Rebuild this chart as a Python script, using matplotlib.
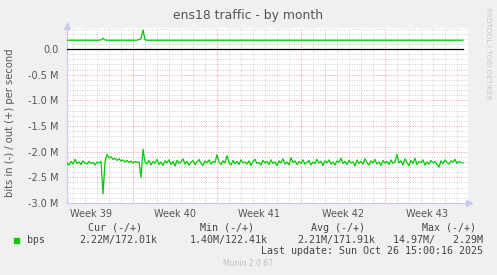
import matplotlib
matplotlib.use("Agg")
import matplotlib.pyplot as plt

# time axis: days since Mon 22 Sep 2025, one sample every 4 hours
t_start = 1.5
t_step = 1 / 6

# bits in (plotted negative), in Mbit/s
in_mbps = [
    2.22, 2.26, 2.19, 2.24, 2.15, 2.23, 2.20, 2.25, 2.18, 2.22,
    2.24, 2.19, 2.23, 2.21, 2.26, 2.20, 2.22, 2.19, 2.82, 2.20,
    2.05, 2.12, 2.10, 2.15, 2.13, 2.17, 2.14, 2.18, 2.16, 2.20,
    2.17, 2.21, 2.18, 2.22, 2.19, 2.21, 2.20, 2.50, 1.95, 2.20,
    2.24, 2.17, 2.26, 2.19, 2.23, 2.15, 2.25, 2.20, 2.27, 2.18,
    2.22, 2.16, 2.25, 2.19, 2.28, 2.17, 2.23, 2.20, 2.14, 2.24,
    2.19, 2.26, 2.21, 2.17, 2.25, 2.20, 2.15, 2.23, 2.27, 2.18,
    2.22, 2.16, 2.24, 2.19, 2.21, 2.06, 2.20, 2.25, 2.18, 2.22,
    2.08, 2.21, 2.26, 2.17, 2.23, 2.19, 2.25, 2.16, 2.22, 2.20,
    2.24, 2.18, 2.27, 2.19, 2.15, 2.23, 2.21, 2.26, 2.17, 2.22,
    2.19, 2.25, 2.16, 2.23, 2.20, 2.27, 2.18, 2.22, 2.14, 2.24,
    2.20, 2.26, 2.12, 2.21, 2.18, 2.25, 2.19, 2.23, 2.16, 2.24,
    2.21, 2.17, 2.26, 2.20, 2.23, 2.15, 2.22, 2.19, 2.27, 2.18,
    2.22, 2.16, 2.24, 2.20, 2.26, 2.18, 2.21, 2.13, 2.23, 2.19,
    2.25, 2.17, 2.22, 2.20, 2.28, 2.16, 2.23, 2.19, 2.24, 2.14,
    2.21, 2.26, 2.18, 2.22, 2.15, 2.24, 2.20, 2.27, 2.17, 2.22,
    2.19, 2.25, 2.16, 2.23, 2.20, 2.05, 2.22, 2.18, 2.26, 2.14,
    2.21, 2.27, 2.17, 2.23, 2.13, 2.25, 2.19, 2.22, 2.16, 2.26,
    2.20, 2.24, 2.17, 2.22, 2.19, 2.25, 2.30, 2.18, 2.23, 2.16,
    2.21, 2.24, 2.18, 2.20, 2.15, 2.23, 2.19, 2.21, 2.22,
]

# bits out (plotted positive), in Mbit/s
out_mbps = [
    0.172, 0.171, 0.172, 0.173, 0.172, 0.171, 0.172, 0.172, 0.173, 0.172,
    0.172, 0.171, 0.172, 0.172, 0.173, 0.172, 0.172, 0.178, 0.210, 0.175,
    0.172, 0.171, 0.172, 0.173, 0.172, 0.172, 0.171, 0.172, 0.173, 0.172,
    0.172, 0.171, 0.172, 0.172, 0.173, 0.172, 0.185, 0.200, 0.370, 0.180,
    0.172, 0.172, 0.171, 0.172, 0.173, 0.172, 0.172, 0.171, 0.172, 0.172,
    0.173, 0.172, 0.172, 0.171, 0.172, 0.172, 0.173, 0.172, 0.172, 0.171,
    0.172, 0.172, 0.172, 0.173, 0.172, 0.171, 0.172, 0.172, 0.172, 0.173,
    0.172, 0.171, 0.172, 0.172, 0.172, 0.173, 0.172, 0.172, 0.171, 0.172,
    0.172, 0.173, 0.172, 0.171, 0.172, 0.172, 0.172, 0.173, 0.172, 0.172,
    0.171, 0.172, 0.172, 0.172, 0.173, 0.172, 0.171, 0.172, 0.172, 0.172,
    0.173, 0.172, 0.172, 0.171, 0.172, 0.172, 0.172, 0.173, 0.172, 0.171,
    0.172, 0.172, 0.172, 0.173, 0.172, 0.172, 0.171, 0.172, 0.172, 0.173,
    0.172, 0.172, 0.171, 0.172, 0.172, 0.172, 0.173, 0.172, 0.171, 0.172,
    0.172, 0.172, 0.173, 0.172, 0.172, 0.171, 0.172, 0.172, 0.172, 0.173,
    0.172, 0.171, 0.172, 0.172, 0.172, 0.173, 0.172, 0.172, 0.171, 0.172,
    0.172, 0.172, 0.173, 0.172, 0.171, 0.172, 0.172, 0.172, 0.173, 0.172,
    0.172, 0.171, 0.172, 0.172, 0.172, 0.173, 0.172, 0.171, 0.172, 0.172,
    0.172, 0.173, 0.172, 0.172, 0.171, 0.172, 0.172, 0.172, 0.173, 0.172,
    0.171, 0.172, 0.172, 0.172, 0.173, 0.172, 0.172, 0.171, 0.172, 0.172,
    0.172, 0.173, 0.172, 0.171, 0.172, 0.172, 0.172, 0.173, 0.172,
]

y_ticks = [0.0, -0.5, -1.0, -1.5, -2.0, -2.5, -3.0]
y_tick_labels = ["0.0", "-0.5 M", "-1.0 M", "-1.5 M", "-2.0 M", "-2.5 M", "-3.0 M"]
week_starts = [7, 14, 21, 28]
week_mids = [3.5, 10.5, 17.5, 24.5, 31.5]
week_labels = ["Week 39", "Week 40", "Week 41", "Week 42", "Week 43"]

legend_headers = ["Cur (-/+)", "Min (-/+)", "Avg (-/+)", "Max (-/+)"]
legend_values = ["2.22M/172.01k", "1.40M/122.41k", "2.21M/171.91k", "14.97M/   2.29M"]

W, H = 497, 275
BG = "#F0F0F0"
GREEN = "#00CC00"
MINOR = "#CFCFCF"
MAJOR = "#EAA0A0"
AXIS = "#C8C8F0"
TXT = "#555555"

fig = plt.figure(figsize=(W / 100, H / 100), dpi=100, facecolor=BG)
# plot area in pixels: x 67..468, y 28..203
ax = fig.add_axes([67 / W, 1 - 203 / H, 401 / W, 175 / H], facecolor="white")

t = [t_start + t_step * i for i in range(len(in_mbps))]
neg_in = [-v for v in in_mbps]

x_min, x_max = 1.5, 34.92
y_min, y_max = -3.0, 0.41
ax.set_xlim(x_min, x_max)
ax.set_ylim(y_min, y_max)

# minor grid (days / 0.1 M)
for d in range(2, 35):
    if d not in week_starts:
        ax.axvline(d, color=MINOR, lw=0.7, ls=(0, (1, 1.5)), zorder=1)
for k in range(-29, 5):
    if k % 5 != 0:
        ax.axhline(k / 10, color=MINOR, lw=0.7, ls=(0, (1, 1.5)), zorder=1)
# major grid (weeks / 0.5 M)
for d in week_starts:
    ax.axvline(d, color=MAJOR, lw=0.7, ls=(0, (1, 1.5)), zorder=1)
for v in y_ticks[1:-1]:
    ax.axhline(v, color=MAJOR, lw=0.7, ls=(0, (1, 1.5)), zorder=1)

ax.plot(t, neg_in, color=GREEN, lw=0.9, zorder=3)
ax.plot(t, out_mbps, color=GREEN, lw=0.9, zorder=3)
ax.plot([t[0], t[-1]], [0, 0], color="black", lw=0.9, zorder=4)

for s in ["top", "right"]:
    ax.spines[s].set_visible(False)
for s in ["left", "bottom"]:
    ax.spines[s].set_color(AXIS)
    ax.spines[s].set_linewidth(0.9)

# axis arrows
ax.plot([x_min], [y_max + 0.03], marker="^", color=AXIS, ms=4, clip_on=False, zorder=5)
ax.plot([x_max + 0.1], [y_min], marker=">", color=AXIS, ms=4, clip_on=False, zorder=5)

ax.set_yticks(y_ticks)
ax.set_yticklabels(y_tick_labels)
ax.set_xticks(week_mids)
ax.set_xticklabels(week_labels)
ax.tick_params(axis="both", length=0, colors=TXT, labelsize=7)
ax.tick_params(axis="y", pad=6)
ax.tick_params(axis="x", pad=4)

fig.text(248 / W, 1 - 16 / H, "ens18 traffic - by month", ha="center", va="center",
         fontsize=8.9, color=TXT)
fig.text(10 / W, 1 - 123 / H, "bits in (-) / out (+) per second", rotation=90,
         ha="center", va="center", fontsize=7.2, color=TXT)
fig.text(488 / W, 1 - 53 / H, "RRDTOOL / TOBI OETIKER", rotation=270,
         ha="center", va="center", fontsize=5.2, color="#C8C8C8")

mono = "DejaVu Sans Mono"
LEG = "#444444"
header_right = [142, 254, 365, 476]
value_right = [157, 268, 375, 483]
for hx, hd in zip(header_right, legend_headers):
    fig.text(hx / W, 1 - 228 / H, hd, ha="right", va="center", family=mono,
             fontsize=7.2, color=LEG)
for vx, vl in zip(value_right, legend_values):
    fig.text(vx / W, 1 - 240 / H, vl, ha="right", va="center", family=mono,
             fontsize=7.2, color=LEG)

fig.patches.append(plt.Rectangle((14 / W, 1 - 243 / H), 5 / W, 5 / H,
                                 transform=fig.transFigure, color=GREEN))
fig.text(27 / W, 1 - 240 / H, "bps", ha="left", va="center", family=mono,
         fontsize=7.2, color=LEG)
fig.text(483 / W, 1 - 251 / H, "Last update: Sun Oct 26 15:00:16 2025", ha="right",
         va="center", family=mono, fontsize=7.2, color=LEG)
fig.text(248 / W, 1 - 264 / H, "Munin 2.0.67", ha="center", va="center",
         fontsize=5.5, color="#C0C0C0")

fig.savefig("out.png", dpi=100, facecolor=BG)
